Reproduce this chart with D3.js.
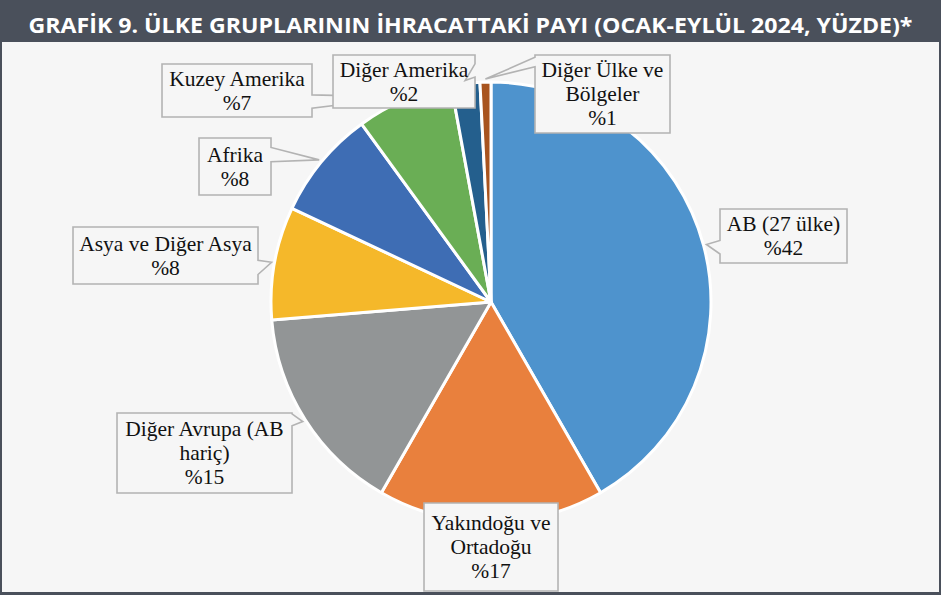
<!DOCTYPE html>
<html>
<head>
<meta charset="utf-8">
<script src="https://cdn.jsdelivr.net/npm/d3@7"></script>
<style>
  html, body {margin: 0; padding: 0; background: #fff;}
  svg {display: block;}
</style>
</head>
<body>
<div id="app"></div>
<script>
`use strict`;

const Title = `GRAFİK 9. ÜLKE GRUPLARININ İHRACATTAKİ PAYI (OCAK-EYLÜL 2024, YÜZDE)*`;

const Groups = [`AB (27 ülke)`, `Yakındoğu ve\nOrtadoğu`, `Diğer Avrupa (AB\nhariç)`, `Asya ve Diğer Asya`, `Afrika`, `Kuzey Amerika`, `Diğer Amerika`, `Diğer Ülke ve\nBölgeler`];

const Shares = [41.7, 16.6, 15.4, 8.3, 8.0, 7.1, 2.1, 0.8];

const Colors = [`#4e93cd`, `#e9803d`, `#929596`, `#f5b82a`, `#3e6db4`, `#6aae55`, `#245f8d`, `#a8541f`];

// callout boxes: x, y, w, h, wedge side, wedge base (fractions of the edge)
const Boxes = [
  [720, 209, 127, 54, `left`, 7/12, 10/12],
  [424, 503, 134, 88, `none`, 0, 0],
  [117, 413, 175, 80, `right`, 0.01, 0.16],
  [73, 227, 185, 57, `right`, 7/12, 10/12],
  [199, 138, 72, 57, `right`, 2/12, 5/12],
  [162, 64, 150, 53, `right`, 7/12, 10/12],
  [333, 55, 142, 53, `right`, 2/12, 5/12],
  [535, 55, 135, 78, `left`, 0.03, 0.15]
];

const W = 941, H = 595, CX = 491, CY = 302, R = 220;

let SVG = d3.select(`#app`).append(`svg`).attr(`width`, W).attr(`height`, H);

SVG.append(`rect`).attr(`width`, W).attr(`height`, H).attr(`fill`, `#f6f6f6`);

let Data = Shares.map((v, i) => ({group: Groups[i], value: v, color: Colors[i], box: Boxes[i]}));

let pie = d3.pie().value(d => d.value).sort(null),

arc = d3.arc().innerRadius(0).outerRadius(R),

tipArc = d3.arc().innerRadius(R + 3).outerRadius(R + 3);

let Slices = pie(Data);

SVG.append(`g`).attr(`transform`, `translate(${CX},${CY})`)
  .selectAll(`path`).data(Slices).enter().append(`path`)
  .attr(`d`, arc)
  .attr(`fill`, d => d.data.color)
  .attr(`stroke`, `#fff`)
  .attr(`stroke-width`, 3)
  .attr(`stroke-linejoin`, `round`);

function callout (b, tip) {

  let [x, y, w, h, side, f1, f2] = b, r = x + w, btm = y + h;

  let P = [[x, y]];

  if (side === `top`) P.push([x + w * f1, y], tip, [x + w * f2, y]);

  P.push([r, y]);

  if (side === `right`) P.push([r, y + h * f1], tip, [r, y + h * f2]);

  P.push([r, btm]);

  if (side === `bottom`) P.push([x + w * f2, btm], tip, [x + w * f1, btm]);

  P.push([x, btm]);

  if (side === `left`) P.push([x, y + h * f2], tip, [x, y + h * f1]);

  return `M` + P.map(p => p.join(` `)).join(`L`) + `Z`;
}

let Labels = SVG.append(`g`).selectAll(`g`).data(Slices).enter().append(`g`);

Labels.append(`path`)
  .attr(`d`, d => {
    let c = tipArc.centroid(d);
    return callout(d.data.box, [CX + c[0], CY + c[1]]);
  })
  .attr(`fill`, `#f6f6f6`)
  .attr(`stroke`, `#b3b3b3`)
  .attr(`stroke-width`, 1.6);

Labels.each(function (d) {

  let b = d.data.box,

  lines = d.data.group.split(`\n`).concat([`%${Math.round(d.data.value)}`]),

  mid = b[1] + b[3] / 2;

  d3.select(this).append(`text`)
    .attr(`font-family`, `"Liberation Serif", "Times New Roman", serif`)
    .attr(`font-size`, `21.5px`)
    .attr(`fill`, `#111`)
    .attr(`text-anchor`, `middle`)
    .selectAll(`tspan`).data(lines).enter().append(`tspan`)
    .attr(`x`, b[0] + b[2] / 2)
    .attr(`y`, (t, i) => mid + (i - (lines.length - 1) / 2) * 24 + 7)
    .text(t => t);
});

SVG.append(`rect`).attr(`width`, W).attr(`height`, 42).attr(`fill`, `#4a505b`);

SVG.append(`rect`).attr(`x`, 1).attr(`y`, 1).attr(`width`, W - 2).attr(`height`, H - 2)
  .attr(`fill`, `none`).attr(`stroke`, `#4a505b`).attr(`stroke-width`, 2);

SVG.append(`rect`).attr(`x`, 0).attr(`y`, H - 3).attr(`width`, W).attr(`height`, 3).attr(`fill`, `#4a505b`);

SVG.append(`text`)
  .attr(`x`, W / 2)
  .attr(`y`, 33)
  .attr(`text-anchor`, `middle`)
  .attr(`font-family`, `"Open Sans", sans-serif`)
  .attr(`font-weight`, `bold`)
  .attr(`font-size`, `22px`)
  .attr(`fill`, `#fff`)
  .attr(`textLength`, 884)
  .attr(`lengthAdjust`, `spacingAndGlyphs`)
  .text(Title);
</script>
</body>
</html>
